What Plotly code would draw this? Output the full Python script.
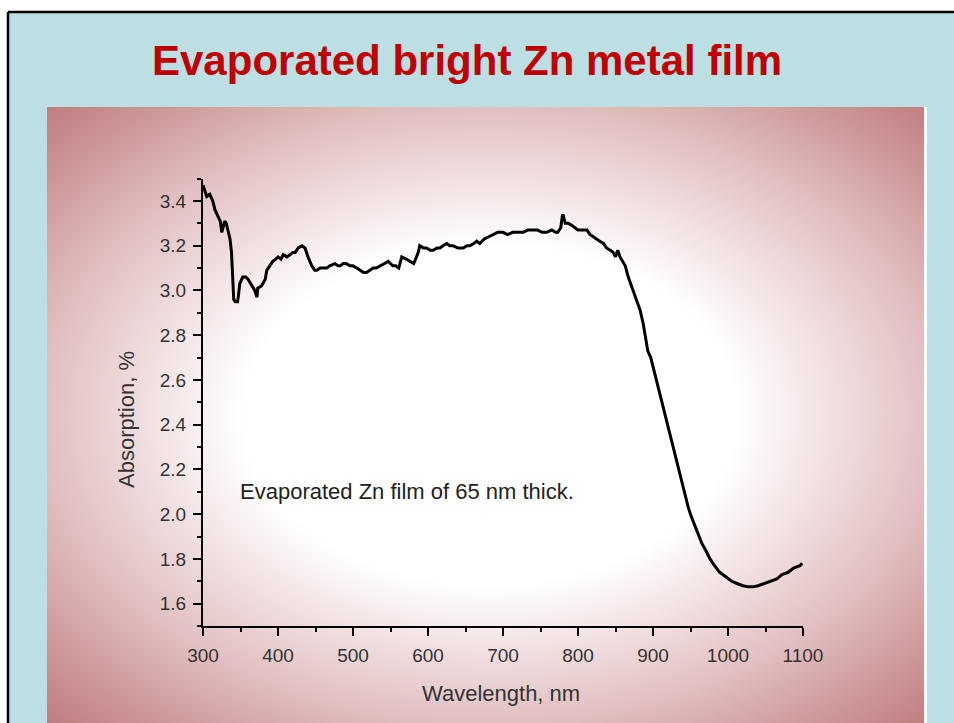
import base64, struct, zlib
import numpy as np
import plotly.graph_objects as go

# ---------------- data ----------------
wavelength_nm = [
    300, 303, 305, 309, 313, 316, 320, 323, 325, 327, 329, 331, 333, 336, 338, 339,
    340, 341, 343, 346, 347, 349, 353, 357, 360, 365, 369, 372, 373, 378, 383, 385,
    389, 393, 397, 400, 404, 407, 412, 416, 420, 423, 427, 432, 436, 440, 445, 449,
    452, 456, 460, 465, 469, 476, 480, 483, 487, 491, 496, 500, 505, 509, 514, 518,
    523, 527, 531, 536, 541, 547, 553, 557, 561, 565, 571, 576, 581, 587, 589, 594,
    598, 603, 607, 612, 616, 620, 625, 629, 633, 640, 647, 652, 656, 661, 665, 669,
    675, 681, 687, 693, 700, 706, 713, 720, 727, 733, 740, 746, 752, 758, 765, 770,
    773, 777, 779, 780, 783, 787, 792, 796, 800, 806, 812, 816, 820, 825, 829, 834,
    838, 843, 847, 850, 853, 856, 860, 863, 867, 871, 876, 880, 883, 887, 890, 893,
    897, 900, 903, 907, 910, 913, 917, 920, 923, 927, 930, 933, 937, 940, 943, 947,
    951, 956, 960, 965, 970, 976, 982, 989, 997, 1005, 1012, 1020, 1027, 1033, 1040,
    1049, 1057, 1065, 1072, 1080, 1088, 1096, 1099,
]
absorption_pct = [
    3.47, 3.44, 3.42, 3.43, 3.40, 3.36, 3.33, 3.31, 3.26, 3.28, 3.31, 3.30, 3.27, 3.23, 3.17, 3.10,
    3.02, 2.96, 2.95, 2.95, 2.97, 3.03, 3.06, 3.06, 3.05, 3.02, 3.00, 2.97, 3.01, 3.02, 3.05, 3.09,
    3.11, 3.13, 3.14, 3.15, 3.14, 3.16, 3.15, 3.16, 3.17, 3.17, 3.19, 3.20, 3.19, 3.15, 3.11, 3.09,
    3.09, 3.10, 3.10, 3.10, 3.11, 3.12, 3.11, 3.11, 3.12, 3.12, 3.11, 3.11, 3.10, 3.09, 3.08, 3.08,
    3.09, 3.10, 3.10, 3.11, 3.12, 3.13, 3.11, 3.11, 3.10, 3.15, 3.14, 3.13, 3.12, 3.17, 3.20, 3.19,
    3.19, 3.18, 3.18, 3.19, 3.19, 3.20, 3.21, 3.20, 3.20, 3.19, 3.19, 3.20, 3.20, 3.21, 3.22, 3.21,
    3.23, 3.24, 3.25, 3.26, 3.26, 3.25, 3.26, 3.26, 3.26, 3.27, 3.27, 3.27, 3.26, 3.26, 3.27, 3.26,
    3.26, 3.28, 3.33, 3.34, 3.30, 3.30, 3.29, 3.28, 3.27, 3.27, 3.27, 3.25, 3.24, 3.23, 3.22, 3.21,
    3.19, 3.18, 3.17, 3.15, 3.18, 3.15, 3.13, 3.11, 3.06, 3.02, 2.97, 2.94, 2.91, 2.85, 2.79, 2.73,
    2.70, 2.66, 2.62, 2.57, 2.52, 2.48, 2.43, 2.39, 2.35, 2.30, 2.25, 2.21, 2.17, 2.12, 2.08, 2.03,
    1.99, 1.95, 1.91, 1.87, 1.84, 1.80, 1.77, 1.74, 1.72, 1.70, 1.69, 1.68, 1.675, 1.675, 1.68,
    1.69, 1.70, 1.71, 1.73, 1.74, 1.76, 1.77, 1.78,
]
x_ticks = [300, 400, 500, 600, 700, 800, 900, 1000, 1100]
y_ticks = [1.6, 1.8, 2.0, 2.2, 2.4, 2.6, 2.8, 3.0, 3.2, 3.4]

TITLE = "Evaporated bright Zn metal film"
NOTE = "Evaporated Zn film of 65 nm thick."
X_TITLE = "Wavelength, nm"
Y_TITLE = "Absorption, %"

# ---------------- page geometry ----------------
W, H = 954, 723


def px(x):
    return x / W


def py(y):
    return 1 - y / H


# ---------------- decorative radial background (PNG data URI) ----------------
def make_png(rgb):
    h, w, _ = rgb.shape
    raw = b"".join(b"\x00" + rgb[r].tobytes() for r in range(h))

    def chunk(tag, data):
        c = struct.pack(">I", len(data)) + tag + data
        return c + struct.pack(">I", zlib.crc32(tag + data) & 0xFFFFFFFF)

    png = b"\x89PNG\r\n\x1a\n"
    png += chunk(b"IHDR", struct.pack(">IIBBBBB", w, h, 8, 2, 0, 0, 0))
    png += chunk(b"IDAT", zlib.compress(raw, 9))
    png += chunk(b"IEND", b"")
    return "data:image/png;base64," + base64.b64encode(png).decode()


bx0, by0, bx1, by1 = 47, 107, 924, 723
gx, gy = np.meshgrid(np.arange(bx0, bx1) + 0.5, np.arange(by0, by1) + 0.5)
d = np.sqrt(((gx - 490) / 450.0) ** 2 + ((gy - 415) / 310.0) ** 2)
stops = [0.0, 0.55, 0.75, 1.0, 1.2, 1.4]
cols = [(255, 255, 255), (255, 255, 255), (243, 226, 227), (225, 190, 191),
        (208, 156, 158), (192, 125, 127)]
img = np.zeros(d.shape + (3,), dtype=np.uint8)
for ch in range(3):
    img[..., ch] = np.clip(np.interp(d, stops, [c[ch] for c in cols]), 0, 255).astype(np.uint8)
bg_uri = make_png(img)

# ---------------- figure ----------------
fig = go.Figure()
fig.add_trace(go.Scatter(
    x=wavelength_nm, y=absorption_pct, mode="lines",
    line=dict(color="black", width=3), hoverinfo="x+y", showlegend=False,
))

FONT = "Liberation Sans, Arial, sans-serif"
tick_font = dict(family=FONT, size=19, color="#333333")

fig.update_layout(
    width=W, height=H, autosize=False,
    margin=dict(l=0, r=0, t=0, b=0, autoexpand=False),
    paper_bgcolor="#BCDFE3",
    plot_bgcolor="rgba(0,0,0,0)",
    showlegend=False,
    xaxis=dict(
        domain=[px(203), px(803)], range=[300, 1100], tickvals=x_ticks, automargin=False,
        showline=True, linecolor="black", linewidth=2, mirror=False,
        ticks="outside", ticklen=8, tickwidth=2, tickcolor="black",
        minor=dict(dtick=50, ticks="outside", ticklen=4, tickwidth=1.5, tickcolor="black"),
        showgrid=False, zeroline=False, tickfont=tick_font, ticklabelstandoff=3,
    ),
    yaxis=dict(
        domain=[py(626), py(178.6)], range=[1.5, 3.5], tickvals=y_ticks, tickformat=".1f",
        automargin=False,
        showline=True, linecolor="black", linewidth=2, mirror=False,
        ticks="outside", ticklen=8, tickwidth=2, tickcolor="black",
        minor=dict(dtick=0.1, ticks="outside", ticklen=4, tickwidth=1.5, tickcolor="black"),
        showgrid=False, zeroline=False, tickfont=tick_font, ticklabelstandoff=3,
    ),
    images=[dict(
        source=bg_uri, xref="paper", yref="paper",
        x=px(bx0), y=py(by0), sizex=(bx1 - bx0) / W, sizey=(by1 - by0) / H,
        xanchor="left", yanchor="top", sizing="stretch", layer="below",
    )],
    shapes=[
        # white strip above / left of the slide border
        dict(type="rect", xref="paper", yref="paper", x0=0, x1=1, y0=py(12), y1=1,
             fillcolor="white", line=dict(width=0), layer="below"),
        dict(type="rect", xref="paper", yref="paper", x0=0, x1=px(8), y0=0, y1=1,
             fillcolor="white", line=dict(width=0), layer="below"),
        # slide border
        dict(type="line", xref="paper", yref="paper", x0=px(8), x1=1, y0=py(12), y1=py(12),
             line=dict(color="black", width=2.5)),
        dict(type="line", xref="paper", yref="paper", x0=px(8), x1=px(8), y0=0, y1=py(12),
             line=dict(color="black", width=2.5)),
        # white edge on right side of the picture
        dict(type="line", xref="paper", yref="paper", x0=px(925.5), x1=px(925.5),
             y0=0, y1=py(107), line=dict(color="white", width=3), layer="below"),
    ],
    annotations=[
        dict(text=f"<b>{TITLE}</b>", xref="paper", yref="paper", x=px(467), y=py(60),
             xanchor="center", yanchor="middle", showarrow=False,
             font=dict(family=FONT, size=42, color="#C00000")),
        dict(text=NOTE, xref="paper", yref="paper", x=px(238), y=py(491),
             xanchor="left", yanchor="middle", showarrow=False,
             font=dict(family=FONT, size=22, color="#222222")),
        dict(text=X_TITLE, xref="paper", yref="paper", x=px(501), y=py(693),
             xanchor="center", yanchor="middle", showarrow=False,
             font=dict(family=FONT, size=22, color="#333333")),
        dict(text=Y_TITLE, xref="paper", yref="paper", x=px(126), y=py(420),
             xanchor="center", yanchor="middle", showarrow=False, textangle=-90,
             font=dict(family=FONT, size=22, color="#333333")),
    ],
)

fig.write_html(
    "out.html",
    config={"displayModeBar": False},
    post_script="document.body.style.margin='0';document.body.style.overflow='hidden';",
)
